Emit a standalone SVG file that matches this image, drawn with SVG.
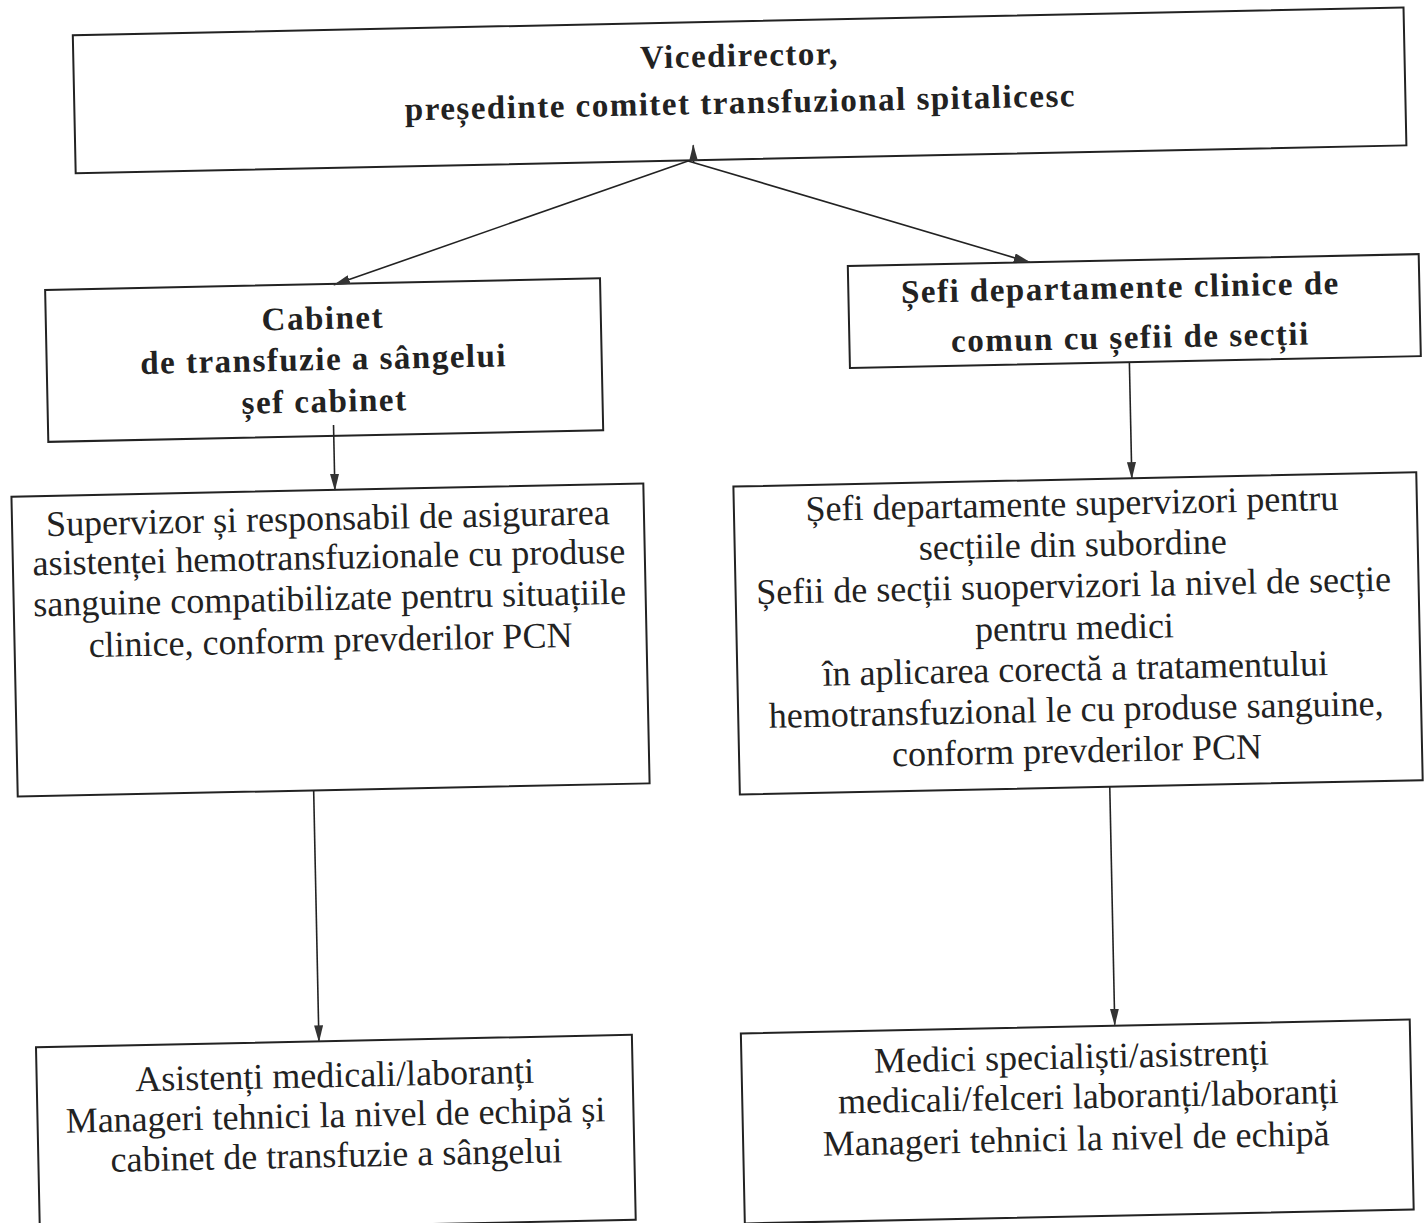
<svg xmlns="http://www.w3.org/2000/svg" width="1426" height="1223" viewBox="0 0 1426 1223">
<defs>
<marker id="ah" markerWidth="17" markerHeight="9" refX="16" refY="4.5" orient="auto" markerUnits="userSpaceOnUse"><path d="M0,0 L17,4.5 L0,9 Z" fill="#333"/></marker>
</defs>
<style>
.box{fill:none;stroke:#222;stroke-width:2}
.con{fill:none;stroke:#222;stroke-width:1.6}
.b{font-family:"Liberation Serif","Times New Roman",serif;font-weight:bold;font-size:33px;letter-spacing:1.5px;fill:#222;text-anchor:middle}
.r{font-family:"Liberation Serif","Times New Roman",serif;font-size:36px;fill:#222;text-anchor:middle}
</style>
<rect width="1426" height="1223" fill="#fff"/>
<g transform="rotate(-1.2 713 611)">
<g id="node-vicedirector">
<rect class="box" x="85" y="22" width="1331" height="138"/>
<text class="b" x="751" y="67">Vicedirector,</text>
<text class="b" x="751" y="114">președinte comitet transfuzional spitalicesc</text>
</g>
<g id="node-cabinet">
<rect class="box" x="52" y="276" width="555" height="152"/>
<text class="b" x="329" y="321">Cabinet</text>
<text class="b" x="329" y="362">de transfuzie a sângelui</text>
<text class="b" x="329" y="404">șef cabinet</text>
</g>
<g id="node-sefi-clinice">
<rect class="box" x="855" y="269" width="571" height="102"/>
<text class="b" x="1127" y="307">Șefi departamente clinice de</text>
<text class="b" x="1136" y="357">comun cu șefii de secții</text>
</g>
<g id="node-supervizor">
<rect class="box" x="14" y="482" width="632" height="300"/>
<text class="r" x="330" y="522">Supervizor și responsabil de asigurarea</text>
<text class="r" x="330" y="561">asistenței hemotransfuzionale cu produse</text>
<text class="r" x="330" y="602">sanguine compatibilizate pentru situațiile</text>
<text class="r" x="330" y="644">clinice, conform prevderilor PCN</text>
</g>
<g id="node-sefi-supervizori">
<rect class="box" x="736" y="487" width="683" height="308"/>
<text class="r" x="1074" y="523">Șefi departamente supervizori pentru</text>
<text class="r" x="1074" y="564">secțiile din subordine</text>
<text class="r" x="1074" y="605">Șefii de secții suopervizori la nivel de secție</text>
<text class="r" x="1074" y="647">pentru medici</text>
<text class="r" x="1074" y="688">în aplicarea corectă a tratamentului</text>
<text class="r" x="1074" y="729">hemotransfuzional le cu produse sanguine,</text>
<text class="r" x="1074" y="770">conform prevderilor PCN</text>
</g>
<g id="node-asistenti">
<rect class="box" x="27" y="1033" width="596" height="185"/>
<text class="r" x="325" y="1079">Asistenți medicali/laboranți</text>
<text class="r" x="325" y="1119">Manageri tehnici la nivel de echipă și</text>
<text class="r" x="325" y="1159">cabinet de transfuzie a sângelui</text>
</g>
<g id="node-medici">
<rect class="box" x="732" y="1034" width="669" height="190"/>
<text class="r" x="1062" y="1076">Medici specialiști/asistrenți</text>
<text class="r" x="1078" y="1116" font-size="35">medicali/felceri laboranți/laboranți</text>
<text class="r" x="1065" y="1158">Manageri tehnici la nivel de echipă</text>
</g>
<g id="connectors">
<path class="con" d="M703,162 L703,145" marker-end="url(#ah)"/>
<path class="con" d="M697.5,160.5 L341,277" marker-end="url(#ah)"/>
<path class="con" d="M697.5,160.5 L1037,269" marker-end="url(#ah)"/>
<path class="con" d="M337.5,417 L337.5,482" marker-end="url(#ah)"/>
<path class="con" d="M1134.5,371 L1134.5,487" marker-end="url(#ah)"/>
<path class="con" d="M310,782 L310,1033" marker-end="url(#ah)"/>
<path class="con" d="M1106,795 L1106,1033" marker-end="url(#ah)"/>
</g>
</g>
</svg>
